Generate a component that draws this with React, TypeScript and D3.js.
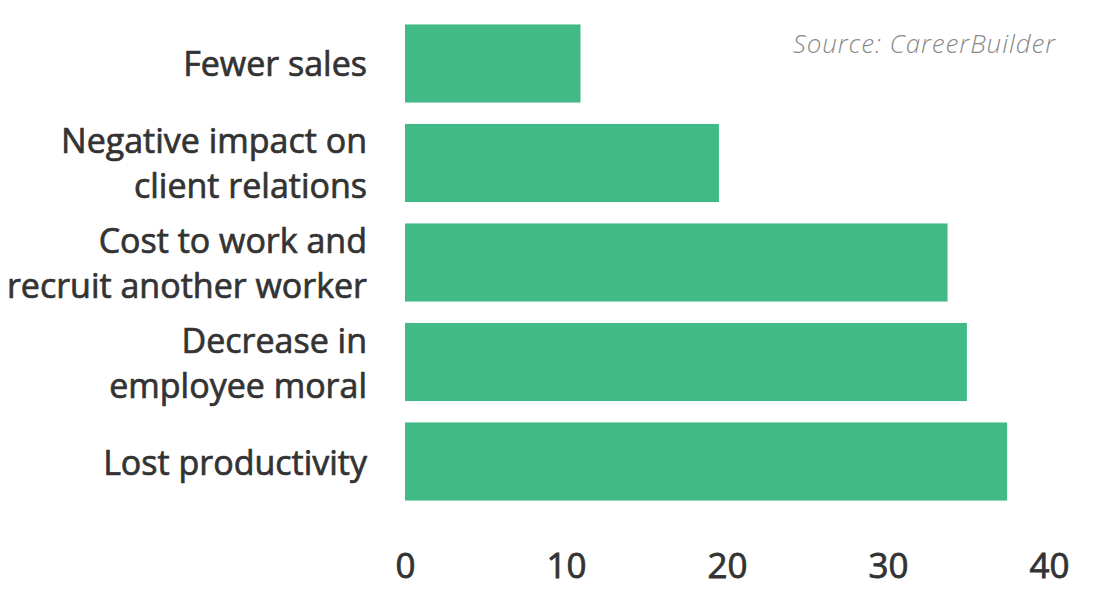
import { useEffect, useRef } from "react"
import * as d3 from "d3"

const categories = [
  ["Fewer sales"],
  ["Negative impact on", "client relations"],
  ["Cost to work and", "recruit another worker"],
  ["Decrease in", "employee moral"],
  ["Lost productivity"],
]
const values = [10.9, 19.5, 33.7, 34.9, 37.4]
const ticks = [0, 10, 20, 30, 40]
const source = "Source: CareerBuilder"

const width = 1120
const height = 596
const barColor = "#41ba88"
const textColor = "#333333"
const font = "'Open Sans', Lato, sans-serif"

export default function App() {
  const svgRef = useRef<SVGSVGElement>(null)

  useEffect(() => {
    if (!svgRef.current) return
    const svg = d3.select(svgRef.current)
    svg.selectAll("*").remove()

    const x = d3.scaleLinear().domain([0, 40]).range([405, 1049])
    const y = d3
      .scaleBand<number>()
      .domain(d3.range(categories.length))
      .range([13.5, 511.5])
      .paddingInner(0.215)
      .paddingOuter(0.11)

    // bars
    svg
      .append("g")
      .selectAll("rect")
      .data(values)
      .enter()
      .append("rect")
      .attr("x", x(0))
      .attr("y", (_, i) => y(i) || 0)
      .attr("width", (d) => x(d) - x(0))
      .attr("height", y.bandwidth())
      .attr("fill", barColor)

    // category labels (stroke gives a medium weight)
    const labels = svg
      .append("g")
      .selectAll("text")
      .data(categories)
      .enter()
      .append("text")
      .attr("text-anchor", "end")
      .attr("font-family", font)
      .attr("font-size", 34)
      .attr("fill", textColor)
      .attr("stroke", textColor)
      .attr("stroke-width", 0.7)

    labels.each(function (lines, i) {
      const cy = (y(i) || 0) + y.bandwidth() / 2
      const lh = 45
      const first = cy + 13 - ((lines.length - 1) * lh) / 2
      d3.select(this)
        .selectAll("tspan")
        .data(lines)
        .enter()
        .append("tspan")
        .attr("x", 367)
        .attr("y", (_, j) => first + j * lh)
        .text((d) => d)
    })

    // x axis
    const axis = svg
      .append("g")
      .attr("transform", "translate(0,578)")
      .call(d3.axisBottom(x).tickValues(ticks).tickSize(0).tickPadding(0))
    axis.select(".domain").remove()
    axis
      .selectAll("text")
      .attr("dy", 0)
      .attr("font-family", font)
      .attr("font-size", 35)
      .attr("fill", textColor)
      .attr("stroke", textColor)
      .attr("stroke-width", 0.8)

    // source
    svg
      .append("text")
      .attr("x", 1056)
      .attr("y", 53)
      .attr("text-anchor", "end")
      .attr("font-family", font)
      .attr("font-size", 26)
      .attr("font-style", "italic")
      .attr("font-weight", 300)
      .attr("letter-spacing", 0.9)
      .attr("fill", "#8a8a8a")
      .text(source)
  }, [])

  return (
    <div style={{ margin: -8 }}>
      <svg ref={svgRef} width={width} height={height} style={{ display: "block", background: "#fff" }} />
    </div>
  )
}
